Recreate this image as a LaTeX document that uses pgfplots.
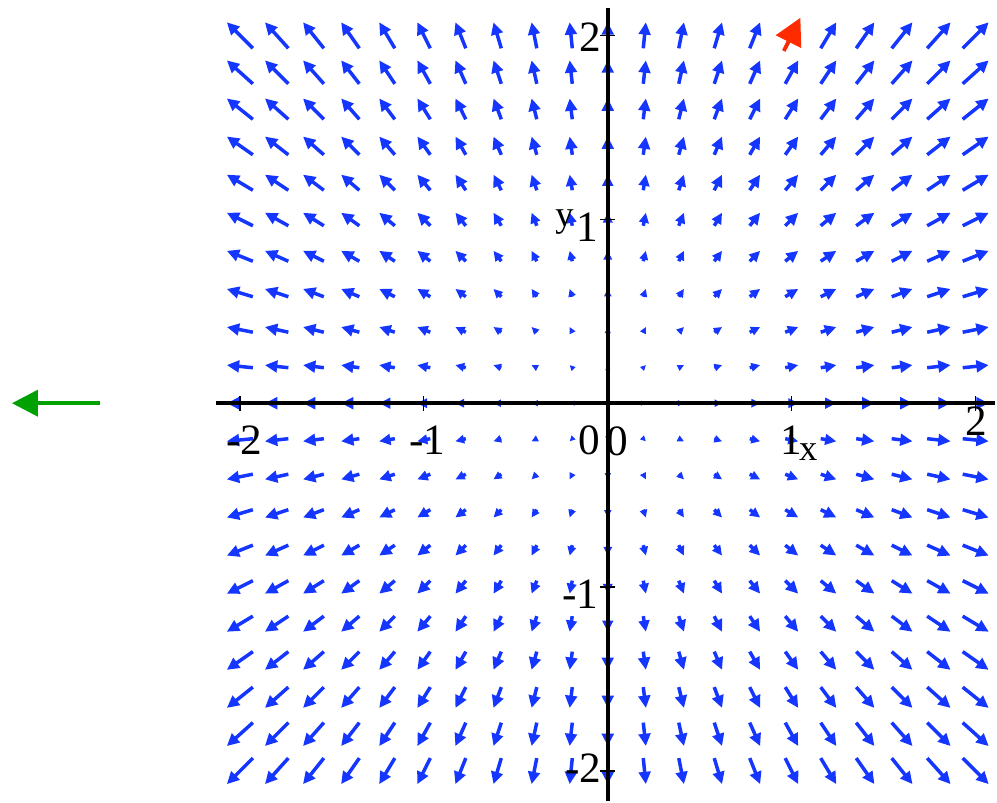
\documentclass[border=0pt]{standalone}
\usepackage{fontspec}
\setmainfont{Liberation Serif}
\usepackage{pgfplots}
\pgfplotsset{compat=1.18}
\usepackage{pgfplotstable}
\usetikzlibrary{arrows.meta}
\definecolor{fblue}{rgb}{0.08,0.21,1}
\definecolor{fred}{rgb}{1,0.17,0}
\definecolor{fgreen}{rgb}{0,0.63,0}

% vector field samples: position (x,y) and vector (u,v)
\pgfplotstableread[row sep=\\]{
x y u v\\
-2 2 -2 2\\ -1.8 2 -1.8 2\\ -1.6 2 -1.6 2\\ -1.4 2 -1.4 2\\ -1.2 2 -1.2 2\\ -1 2 -1 2\\ -0.8 2 -0.8 2\\ -0.6 2 -0.6 2\\ -0.4 2 -0.4 2\\ -0.2 2 -0.2 2\\ 0 2 0 2\\ 0.2 2 0.2 2\\ 0.4 2 0.4 2\\ 0.6 2 0.6 2\\ 0.8 2 0.8 2\\ 1 2 1 2\\ 1.2 2 1.2 2\\ 1.4 2 1.4 2\\ 1.6 2 1.6 2\\ 1.8 2 1.8 2\\ 2 2 2 2\\
-2 1.8 -2 1.8\\ -1.8 1.8 -1.8 1.8\\ -1.6 1.8 -1.6 1.8\\ -1.4 1.8 -1.4 1.8\\ -1.2 1.8 -1.2 1.8\\ -1 1.8 -1 1.8\\ -0.8 1.8 -0.8 1.8\\ -0.6 1.8 -0.6 1.8\\ -0.4 1.8 -0.4 1.8\\ -0.2 1.8 -0.2 1.8\\ 0 1.8 0 1.8\\ 0.2 1.8 0.2 1.8\\ 0.4 1.8 0.4 1.8\\ 0.6 1.8 0.6 1.8\\ 0.8 1.8 0.8 1.8\\ 1 1.8 1 1.8\\ 1.2 1.8 1.2 1.8\\ 1.4 1.8 1.4 1.8\\ 1.6 1.8 1.6 1.8\\ 1.8 1.8 1.8 1.8\\ 2 1.8 2 1.8\\
-2 1.6 -2 1.6\\ -1.8 1.6 -1.8 1.6\\ -1.6 1.6 -1.6 1.6\\ -1.4 1.6 -1.4 1.6\\ -1.2 1.6 -1.2 1.6\\ -1 1.6 -1 1.6\\ -0.8 1.6 -0.8 1.6\\ -0.6 1.6 -0.6 1.6\\ -0.4 1.6 -0.4 1.6\\ -0.2 1.6 -0.2 1.6\\ 0 1.6 0 1.6\\ 0.2 1.6 0.2 1.6\\ 0.4 1.6 0.4 1.6\\ 0.6 1.6 0.6 1.6\\ 0.8 1.6 0.8 1.6\\ 1 1.6 1 1.6\\ 1.2 1.6 1.2 1.6\\ 1.4 1.6 1.4 1.6\\ 1.6 1.6 1.6 1.6\\ 1.8 1.6 1.8 1.6\\ 2 1.6 2 1.6\\
-2 1.4 -2 1.4\\ -1.8 1.4 -1.8 1.4\\ -1.6 1.4 -1.6 1.4\\ -1.4 1.4 -1.4 1.4\\ -1.2 1.4 -1.2 1.4\\ -1 1.4 -1 1.4\\ -0.8 1.4 -0.8 1.4\\ -0.6 1.4 -0.6 1.4\\ -0.4 1.4 -0.4 1.4\\ -0.2 1.4 -0.2 1.4\\ 0 1.4 0 1.4\\ 0.2 1.4 0.2 1.4\\ 0.4 1.4 0.4 1.4\\ 0.6 1.4 0.6 1.4\\ 0.8 1.4 0.8 1.4\\ 1 1.4 1 1.4\\ 1.2 1.4 1.2 1.4\\ 1.4 1.4 1.4 1.4\\ 1.6 1.4 1.6 1.4\\ 1.8 1.4 1.8 1.4\\ 2 1.4 2 1.4\\
-2 1.2 -2 1.2\\ -1.8 1.2 -1.8 1.2\\ -1.6 1.2 -1.6 1.2\\ -1.4 1.2 -1.4 1.2\\ -1.2 1.2 -1.2 1.2\\ -1 1.2 -1 1.2\\ -0.8 1.2 -0.8 1.2\\ -0.6 1.2 -0.6 1.2\\ -0.4 1.2 -0.4 1.2\\ -0.2 1.2 -0.2 1.2\\ 0 1.2 0 1.2\\ 0.2 1.2 0.2 1.2\\ 0.4 1.2 0.4 1.2\\ 0.6 1.2 0.6 1.2\\ 0.8 1.2 0.8 1.2\\ 1 1.2 1 1.2\\ 1.2 1.2 1.2 1.2\\ 1.4 1.2 1.4 1.2\\ 1.6 1.2 1.6 1.2\\ 1.8 1.2 1.8 1.2\\ 2 1.2 2 1.2\\
-2 1 -2 1\\ -1.8 1 -1.8 1\\ -1.6 1 -1.6 1\\ -1.4 1 -1.4 1\\ -1.2 1 -1.2 1\\ -1 1 -1 1\\ -0.8 1 -0.8 1\\ -0.6 1 -0.6 1\\ -0.4 1 -0.4 1\\ -0.2 1 -0.2 1\\ 0 1 0 1\\ 0.2 1 0.2 1\\ 0.4 1 0.4 1\\ 0.6 1 0.6 1\\ 0.8 1 0.8 1\\ 1 1 1 1\\ 1.2 1 1.2 1\\ 1.4 1 1.4 1\\ 1.6 1 1.6 1\\ 1.8 1 1.8 1\\ 2 1 2 1\\
-2 0.8 -2 0.8\\ -1.8 0.8 -1.8 0.8\\ -1.6 0.8 -1.6 0.8\\ -1.4 0.8 -1.4 0.8\\ -1.2 0.8 -1.2 0.8\\ -1 0.8 -1 0.8\\ -0.8 0.8 -0.8 0.8\\ -0.6 0.8 -0.6 0.8\\ -0.4 0.8 -0.4 0.8\\ -0.2 0.8 -0.2 0.8\\ 0 0.8 0 0.8\\ 0.2 0.8 0.2 0.8\\ 0.4 0.8 0.4 0.8\\ 0.6 0.8 0.6 0.8\\ 0.8 0.8 0.8 0.8\\ 1 0.8 1 0.8\\ 1.2 0.8 1.2 0.8\\ 1.4 0.8 1.4 0.8\\ 1.6 0.8 1.6 0.8\\ 1.8 0.8 1.8 0.8\\ 2 0.8 2 0.8\\
-2 0.6 -2 0.6\\ -1.8 0.6 -1.8 0.6\\ -1.6 0.6 -1.6 0.6\\ -1.4 0.6 -1.4 0.6\\ -1.2 0.6 -1.2 0.6\\ -1 0.6 -1 0.6\\ -0.8 0.6 -0.8 0.6\\ -0.6 0.6 -0.6 0.6\\ -0.4 0.6 -0.4 0.6\\ -0.2 0.6 -0.2 0.6\\ 0 0.6 0 0.6\\ 0.2 0.6 0.2 0.6\\ 0.4 0.6 0.4 0.6\\ 0.6 0.6 0.6 0.6\\ 0.8 0.6 0.8 0.6\\ 1 0.6 1 0.6\\ 1.2 0.6 1.2 0.6\\ 1.4 0.6 1.4 0.6\\ 1.6 0.6 1.6 0.6\\ 1.8 0.6 1.8 0.6\\ 2 0.6 2 0.6\\
-2 0.4 -2 0.4\\ -1.8 0.4 -1.8 0.4\\ -1.6 0.4 -1.6 0.4\\ -1.4 0.4 -1.4 0.4\\ -1.2 0.4 -1.2 0.4\\ -1 0.4 -1 0.4\\ -0.8 0.4 -0.8 0.4\\ -0.6 0.4 -0.6 0.4\\ -0.4 0.4 -0.4 0.4\\ -0.2 0.4 -0.2 0.4\\ 0 0.4 0 0.4\\ 0.2 0.4 0.2 0.4\\ 0.4 0.4 0.4 0.4\\ 0.6 0.4 0.6 0.4\\ 0.8 0.4 0.8 0.4\\ 1 0.4 1 0.4\\ 1.2 0.4 1.2 0.4\\ 1.4 0.4 1.4 0.4\\ 1.6 0.4 1.6 0.4\\ 1.8 0.4 1.8 0.4\\ 2 0.4 2 0.4\\
-2 0.2 -2 0.2\\ -1.8 0.2 -1.8 0.2\\ -1.6 0.2 -1.6 0.2\\ -1.4 0.2 -1.4 0.2\\ -1.2 0.2 -1.2 0.2\\ -1 0.2 -1 0.2\\ -0.8 0.2 -0.8 0.2\\ -0.6 0.2 -0.6 0.2\\ -0.4 0.2 -0.4 0.2\\ -0.2 0.2 -0.2 0.2\\ 0 0.2 0 0.2\\ 0.2 0.2 0.2 0.2\\ 0.4 0.2 0.4 0.2\\ 0.6 0.2 0.6 0.2\\ 0.8 0.2 0.8 0.2\\ 1 0.2 1 0.2\\ 1.2 0.2 1.2 0.2\\ 1.4 0.2 1.4 0.2\\ 1.6 0.2 1.6 0.2\\ 1.8 0.2 1.8 0.2\\ 2 0.2 2 0.2\\
-2 0 -2 0\\ -1.8 0 -1.8 0\\ -1.6 0 -1.6 0\\ -1.4 0 -1.4 0\\ -1.2 0 -1.2 0\\ -1 0 -1 0\\ -0.8 0 -0.8 0\\ -0.6 0 -0.6 0\\ -0.4 0 -0.4 0\\ -0.2 0 -0.2 0\\ 0.2 0 0.2 0\\ 0.4 0 0.4 0\\ 0.6 0 0.6 0\\ 0.8 0 0.8 0\\ 1 0 1 0\\ 1.2 0 1.2 0\\ 1.4 0 1.4 0\\ 1.6 0 1.6 0\\ 1.8 0 1.8 0\\ 2 0 2 0\\
-2 -0.2 -2 -0.2\\ -1.8 -0.2 -1.8 -0.2\\ -1.6 -0.2 -1.6 -0.2\\ -1.4 -0.2 -1.4 -0.2\\ -1.2 -0.2 -1.2 -0.2\\ -1 -0.2 -1 -0.2\\ -0.8 -0.2 -0.8 -0.2\\ -0.6 -0.2 -0.6 -0.2\\ -0.4 -0.2 -0.4 -0.2\\ -0.2 -0.2 -0.2 -0.2\\ 0 -0.2 0 -0.2\\ 0.2 -0.2 0.2 -0.2\\ 0.4 -0.2 0.4 -0.2\\ 0.6 -0.2 0.6 -0.2\\ 0.8 -0.2 0.8 -0.2\\ 1 -0.2 1 -0.2\\ 1.2 -0.2 1.2 -0.2\\ 1.4 -0.2 1.4 -0.2\\ 1.6 -0.2 1.6 -0.2\\ 1.8 -0.2 1.8 -0.2\\ 2 -0.2 2 -0.2\\
-2 -0.4 -2 -0.4\\ -1.8 -0.4 -1.8 -0.4\\ -1.6 -0.4 -1.6 -0.4\\ -1.4 -0.4 -1.4 -0.4\\ -1.2 -0.4 -1.2 -0.4\\ -1 -0.4 -1 -0.4\\ -0.8 -0.4 -0.8 -0.4\\ -0.6 -0.4 -0.6 -0.4\\ -0.4 -0.4 -0.4 -0.4\\ -0.2 -0.4 -0.2 -0.4\\ 0 -0.4 0 -0.4\\ 0.2 -0.4 0.2 -0.4\\ 0.4 -0.4 0.4 -0.4\\ 0.6 -0.4 0.6 -0.4\\ 0.8 -0.4 0.8 -0.4\\ 1 -0.4 1 -0.4\\ 1.2 -0.4 1.2 -0.4\\ 1.4 -0.4 1.4 -0.4\\ 1.6 -0.4 1.6 -0.4\\ 1.8 -0.4 1.8 -0.4\\ 2 -0.4 2 -0.4\\
-2 -0.6 -2 -0.6\\ -1.8 -0.6 -1.8 -0.6\\ -1.6 -0.6 -1.6 -0.6\\ -1.4 -0.6 -1.4 -0.6\\ -1.2 -0.6 -1.2 -0.6\\ -1 -0.6 -1 -0.6\\ -0.8 -0.6 -0.8 -0.6\\ -0.6 -0.6 -0.6 -0.6\\ -0.4 -0.6 -0.4 -0.6\\ -0.2 -0.6 -0.2 -0.6\\ 0 -0.6 0 -0.6\\ 0.2 -0.6 0.2 -0.6\\ 0.4 -0.6 0.4 -0.6\\ 0.6 -0.6 0.6 -0.6\\ 0.8 -0.6 0.8 -0.6\\ 1 -0.6 1 -0.6\\ 1.2 -0.6 1.2 -0.6\\ 1.4 -0.6 1.4 -0.6\\ 1.6 -0.6 1.6 -0.6\\ 1.8 -0.6 1.8 -0.6\\ 2 -0.6 2 -0.6\\
-2 -0.8 -2 -0.8\\ -1.8 -0.8 -1.8 -0.8\\ -1.6 -0.8 -1.6 -0.8\\ -1.4 -0.8 -1.4 -0.8\\ -1.2 -0.8 -1.2 -0.8\\ -1 -0.8 -1 -0.8\\ -0.8 -0.8 -0.8 -0.8\\ -0.6 -0.8 -0.6 -0.8\\ -0.4 -0.8 -0.4 -0.8\\ -0.2 -0.8 -0.2 -0.8\\ 0 -0.8 0 -0.8\\ 0.2 -0.8 0.2 -0.8\\ 0.4 -0.8 0.4 -0.8\\ 0.6 -0.8 0.6 -0.8\\ 0.8 -0.8 0.8 -0.8\\ 1 -0.8 1 -0.8\\ 1.2 -0.8 1.2 -0.8\\ 1.4 -0.8 1.4 -0.8\\ 1.6 -0.8 1.6 -0.8\\ 1.8 -0.8 1.8 -0.8\\ 2 -0.8 2 -0.8\\
-2 -1 -2 -1\\ -1.8 -1 -1.8 -1\\ -1.6 -1 -1.6 -1\\ -1.4 -1 -1.4 -1\\ -1.2 -1 -1.2 -1\\ -1 -1 -1 -1\\ -0.8 -1 -0.8 -1\\ -0.6 -1 -0.6 -1\\ -0.4 -1 -0.4 -1\\ -0.2 -1 -0.2 -1\\ 0 -1 0 -1\\ 0.2 -1 0.2 -1\\ 0.4 -1 0.4 -1\\ 0.6 -1 0.6 -1\\ 0.8 -1 0.8 -1\\ 1 -1 1 -1\\ 1.2 -1 1.2 -1\\ 1.4 -1 1.4 -1\\ 1.6 -1 1.6 -1\\ 1.8 -1 1.8 -1\\ 2 -1 2 -1\\
-2 -1.2 -2 -1.2\\ -1.8 -1.2 -1.8 -1.2\\ -1.6 -1.2 -1.6 -1.2\\ -1.4 -1.2 -1.4 -1.2\\ -1.2 -1.2 -1.2 -1.2\\ -1 -1.2 -1 -1.2\\ -0.8 -1.2 -0.8 -1.2\\ -0.6 -1.2 -0.6 -1.2\\ -0.4 -1.2 -0.4 -1.2\\ -0.2 -1.2 -0.2 -1.2\\ 0 -1.2 0 -1.2\\ 0.2 -1.2 0.2 -1.2\\ 0.4 -1.2 0.4 -1.2\\ 0.6 -1.2 0.6 -1.2\\ 0.8 -1.2 0.8 -1.2\\ 1 -1.2 1 -1.2\\ 1.2 -1.2 1.2 -1.2\\ 1.4 -1.2 1.4 -1.2\\ 1.6 -1.2 1.6 -1.2\\ 1.8 -1.2 1.8 -1.2\\ 2 -1.2 2 -1.2\\
-2 -1.4 -2 -1.4\\ -1.8 -1.4 -1.8 -1.4\\ -1.6 -1.4 -1.6 -1.4\\ -1.4 -1.4 -1.4 -1.4\\ -1.2 -1.4 -1.2 -1.4\\ -1 -1.4 -1 -1.4\\ -0.8 -1.4 -0.8 -1.4\\ -0.6 -1.4 -0.6 -1.4\\ -0.4 -1.4 -0.4 -1.4\\ -0.2 -1.4 -0.2 -1.4\\ 0 -1.4 0 -1.4\\ 0.2 -1.4 0.2 -1.4\\ 0.4 -1.4 0.4 -1.4\\ 0.6 -1.4 0.6 -1.4\\ 0.8 -1.4 0.8 -1.4\\ 1 -1.4 1 -1.4\\ 1.2 -1.4 1.2 -1.4\\ 1.4 -1.4 1.4 -1.4\\ 1.6 -1.4 1.6 -1.4\\ 1.8 -1.4 1.8 -1.4\\ 2 -1.4 2 -1.4\\
-2 -1.6 -2 -1.6\\ -1.8 -1.6 -1.8 -1.6\\ -1.6 -1.6 -1.6 -1.6\\ -1.4 -1.6 -1.4 -1.6\\ -1.2 -1.6 -1.2 -1.6\\ -1 -1.6 -1 -1.6\\ -0.8 -1.6 -0.8 -1.6\\ -0.6 -1.6 -0.6 -1.6\\ -0.4 -1.6 -0.4 -1.6\\ -0.2 -1.6 -0.2 -1.6\\ 0 -1.6 0 -1.6\\ 0.2 -1.6 0.2 -1.6\\ 0.4 -1.6 0.4 -1.6\\ 0.6 -1.6 0.6 -1.6\\ 0.8 -1.6 0.8 -1.6\\ 1 -1.6 1 -1.6\\ 1.2 -1.6 1.2 -1.6\\ 1.4 -1.6 1.4 -1.6\\ 1.6 -1.6 1.6 -1.6\\ 1.8 -1.6 1.8 -1.6\\ 2 -1.6 2 -1.6\\
-2 -1.8 -2 -1.8\\ -1.8 -1.8 -1.8 -1.8\\ -1.6 -1.8 -1.6 -1.8\\ -1.4 -1.8 -1.4 -1.8\\ -1.2 -1.8 -1.2 -1.8\\ -1 -1.8 -1 -1.8\\ -0.8 -1.8 -0.8 -1.8\\ -0.6 -1.8 -0.6 -1.8\\ -0.4 -1.8 -0.4 -1.8\\ -0.2 -1.8 -0.2 -1.8\\ 0 -1.8 0 -1.8\\ 0.2 -1.8 0.2 -1.8\\ 0.4 -1.8 0.4 -1.8\\ 0.6 -1.8 0.6 -1.8\\ 0.8 -1.8 0.8 -1.8\\ 1 -1.8 1 -1.8\\ 1.2 -1.8 1.2 -1.8\\ 1.4 -1.8 1.4 -1.8\\ 1.6 -1.8 1.6 -1.8\\ 1.8 -1.8 1.8 -1.8\\ 2 -1.8 2 -1.8\\
-2 -2 -2 -2\\ -1.8 -2 -1.8 -2\\ -1.6 -2 -1.6 -2\\ -1.4 -2 -1.4 -2\\ -1.2 -2 -1.2 -2\\ -1 -2 -1 -2\\ -0.8 -2 -0.8 -2\\ -0.6 -2 -0.6 -2\\ -0.4 -2 -0.4 -2\\ -0.2 -2 -0.2 -2\\ 0 -2 0 -2\\ 0.2 -2 0.2 -2\\ 0.4 -2 0.4 -2\\ 0.6 -2 0.6 -2\\ 0.8 -2 0.8 -2\\ 1 -2 1 -2\\ 1.2 -2 1.2 -2\\ 1.4 -2 1.4 -2\\ 1.6 -2 1.6 -2\\ 1.8 -2 1.8 -2\\ 2 -2 2 -2\\
}\field

\pgfplotstableread{
x y u v
0.957 1.915 0.09 0.18
}\redvec

\pgfplotstableread{
x y u v
-2.762 0 -0.477 0
}\greenvec

\begin{document}
\begin{tikzpicture}
\begin{axis}[
  x=55.29pt, y=55.29pt,
  xmin=-2.132, xmax=2.105, ymin=-2.16, ymax=2.149,
  axis lines=middle,
  axis on top,
  clip=false,
  axis line style={line width=1.2pt},
  every inner x axis line/.append style={-},
  every inner y axis line/.append style={-},
  xtick={-2,-1,1,2}, ytick={-2,-1,1,2},
  xticklabels={}, yticklabels={},
  major tick length=4.5pt, tick align=center,
  tick style={black, line width=0.4pt},
  point meta min=0, point meta max=2.8285,
]
\addplot[fblue, line width=1.05pt,
  point meta={sqrt(\thisrow{u}^2+\thisrow{v}^2)},
  quiver={u=\thisrow{u}, v=\thisrow{v}, scale arrows=0.07071,
    every arrow/.append style={-{Triangle[length=3.7pt,width=3.5pt,scale={min(1,0.3+\pgfplotspointmetatransformed/700)}]}}}]
  table[x expr=\thisrow{x}-0.035355*\thisrow{u}, y expr=\thisrow{y}-0.035355*\thisrow{v}] {\field};
\addplot[fred, line width=1.1pt, quiver={u=\thisrow{u}, v=\thisrow{v}},
  -{Triangle[length=8pt,width=8.3pt]}] table {\redvec};
\addplot[fgreen, line width=1.2pt, quiver={u=\thisrow{u}, v=\thisrow{v}},
  -{Triangle[length=7.8pt,width=7.8pt]}] table {\greenvec};

\path (axis cs:-3.304,-2.16) rectangle (axis cs:2.105,2.192);

\begin{scope}[every node/.style={font=\fontsize{13}{15}\selectfont, inner sep=0pt}]
\node at (axis cs:-1.975,-0.2) {-2};
\node at (axis cs:-0.982,-0.2) {-1};
\node at (axis cs:-0.098,-0.2) {0};
\node at (axis cs:1.0,-0.2) {1};
\node at (axis cs:2.002,-0.098) {2};
\node[anchor=east] at (axis cs:-0.035,1.99) {2};
\node[anchor=east] at (axis cs:-0.049,0.955) {1};
\node[anchor=east] at (axis cs:-0.049,-1.04) {-1};
\node[anchor=east] at (axis cs:-0.03,-1.986) {-2};
\node at (axis cs:0.054,-0.205) {0};
\end{scope}
\node[font=\fontsize{11}{13}\selectfont, inner sep=0pt] at (axis cs:1.09,-0.265) {x};
\node[font=\fontsize{11}{13}\selectfont, inner sep=0pt] at (axis cs:-0.235,0.985) {y};
\end{axis}
\end{tikzpicture}
\end{document}
